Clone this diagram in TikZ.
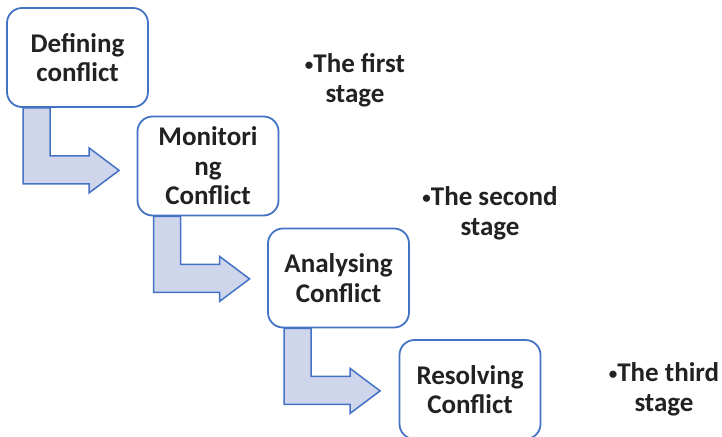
\documentclass[tikz,border=0pt]{standalone}
\usepackage{fontspec}
\setmainfont{Carlito}
\definecolor{stageblue}{HTML}{4472C4}
\definecolor{stagefill}{HTML}{CFD5EA}
\definecolor{stagetext}{HTML}{222222}
\newcommand{\dotmark}{\raisebox{0.1ex}{\fontsize{17}{17}\selectfont\textbullet}}

\tikzstyle{stage}=[draw=stageblue,line width=1.8pt,fill=white,rounded corners=15pt,
  minimum width=141pt,minimum height=99pt,inner sep=0pt,align=center,
  font=\fontsize{27}{29.5}\selectfont\bfseries,text=stagetext]
\tikzstyle{bentarrow}=[draw=stageblue,line width=1.5pt,fill=stagefill,line join=miter]
\tikzstyle{note}=[align=center,font=\fontsize{27}{30}\selectfont\bfseries,text=stagetext]

\begin{document}
\begin{tikzpicture}[x=1pt,y=-1pt]
    \useasboundingbox (0,0) rectangle (722,436);
    %Stage boxes
    \foreach \pos/\name/\txt in {{(77.5,57.5)/def/Defining\\conflict},
                                 {(208,166)/mon/Monitori\\ng\\Conflict},
                                 {(338.5,278)/ana/Analysing\\Conflict},
                                 {(470,389.5)/res/Resolving\\Conflict}}
    \node[stage] (\name) at \pos {\txt};
    %Bent arrows
    \foreach \name in {def,mon,ana}
    \draw[bentarrow,shift={(\name.south west)}] (17,0) -- (44,0) -- (44,48) -- (83,48)
        -- (83,40) -- (113,62.5) -- (83,85) -- (83,76) -- (17,76) -- cycle;
    %Stage notes
    \node[note] (n1) at (355,80) {\dotmark The first\\stage};
    \node[note] (n2) at (490,213) {\dotmark The second\\stage};
    \node[note] (n3) at (664,389) {\dotmark The third\\stage};
\end{tikzpicture}
\end{document}
